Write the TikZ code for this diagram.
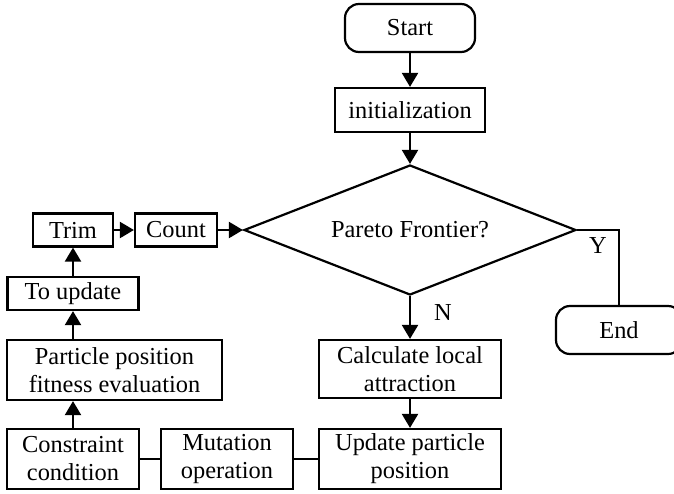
\documentclass[tikz,border=0pt]{standalone}
\usepackage{fontspec}
\setmainfont{Liberation Serif}
\usetikzlibrary{shapes.geometric,arrows.meta}
\begin{document}
\begin{tikzpicture}[x = 0.5pt, y = -0.5pt,
    every node/.style = {font = \fontsize{12.2}{14}\selectfont, inner sep = 0pt, align = center},
    box/.style = {draw, line width = 1.1pt},
    term/.style = {draw, line width = 1.1pt, rounded corners = 7pt},
    decision/.style = {draw, diamond, aspect = 2.55, line width = 1.1pt},
    flow/.style = {line width = 1.1pt, -{Triangle[length = 7pt, width = 8pt]}},
    link/.style = {line width = 1.1pt}]
    \useasboundingbox (0, 0) rectangle (674, 493);

    \node[term, minimum width = 65pt, minimum height = 24pt] (start) at (410, 28) {Start};
    \node[box, minimum width = 75pt, minimum height = 22pt] (init) at (410, 110) {initialization};
    \node[decision, minimum width = 166pt, minimum height = 65pt] (pareto) at (410, 230) {Pareto Frontier?};
    \node[term, minimum width = 63pt, minimum height = 24pt] (end) at (619, 330) {End};

    \node[box, minimum width = 91pt, minimum height = 29pt] (calc) at (410, 369) {Calculate local\\attraction};
    \node[box, minimum width = 91pt, minimum height = 30pt] (update) at (410, 459) {Update particle\\position};
    \node[box, minimum width = 66pt, minimum height = 30pt] (mutation) at (227, 459) {Mutation\\operation};
    \node[box, minimum width = 66pt, minimum height = 30pt] (constraint) at (73, 459) {Constraint\\condition};

    \node[box, minimum width = 107.5pt, minimum height = 30pt] (fitness) at (114.5, 370) {Particle position\\fitness evaluation};
    \node[box, minimum width = 65.5pt, minimum height = 16.5pt] (toupdate) at (73, 293.5) {To update};
    \node[box, minimum width = 40pt, minimum height = 16.5pt] (trim) at (73, 230) {Trim};
    \node[box, minimum width = 41pt, minimum height = 16.5pt] (count) at (176, 230) {Count};

    \node (yes) at (598, 246) {Y};
    \node (no) at (443, 313) {N};

    \draw[flow] (start) -- (init);
    \draw[flow] (init) -- (pareto);
    \draw[link] (pareto.east) -| (end.north);
    \draw[flow] (pareto.south) -- (calc.north);
    \draw[flow] (calc) -- (update);
    \draw[link] (update) -- (mutation);
    \draw[link] (mutation) -- (constraint);
    \draw[flow] (constraint.north) -- (constraint.north |- fitness.south);
    \draw[flow] (toupdate.south |- fitness.north) -- (toupdate.south);
    \draw[flow] (toupdate) -- (trim);
    \draw[flow] (trim) -- (count);
    \draw[flow] (count) -- (pareto.west);
\end{tikzpicture}
\end{document}
